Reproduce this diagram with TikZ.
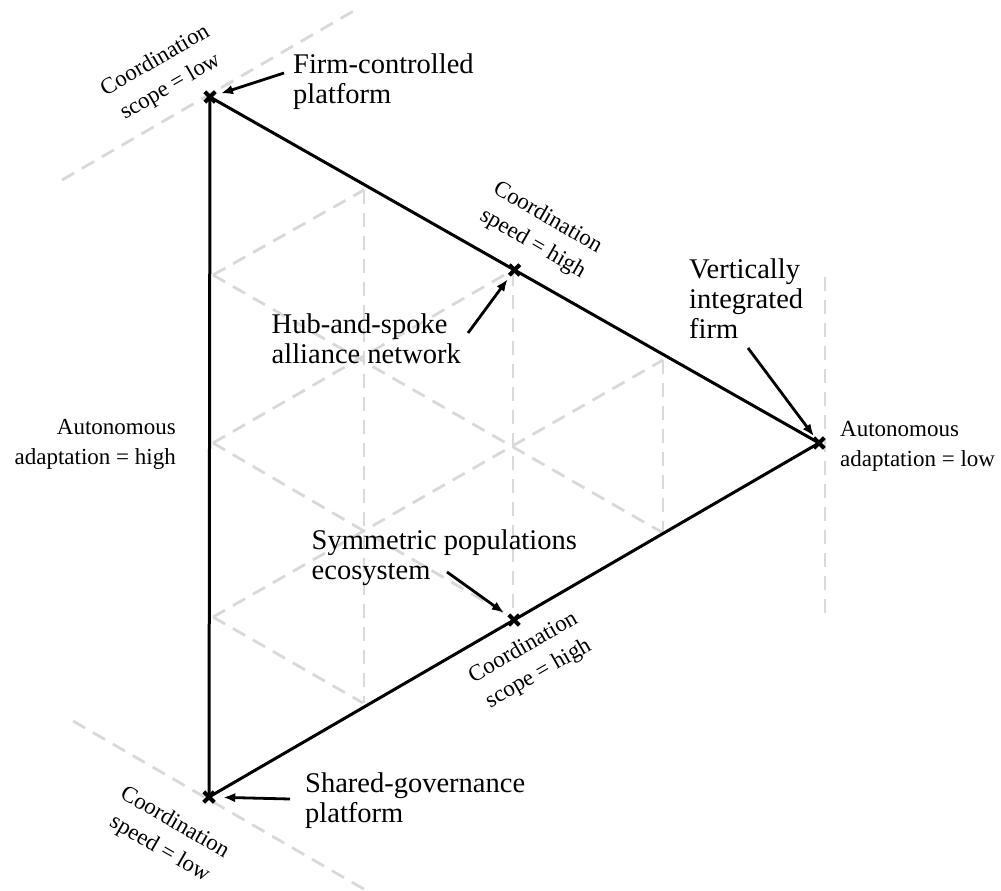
\documentclass[tikz,border=0pt]{standalone}
\usepackage{fontspec}
\setmainfont{Liberation Serif}
\usetikzlibrary{arrows.meta,shapes.misc,calc}
\definecolor{gridgray}{RGB}{217,217,217}
\begin{document}
\begin{tikzpicture}[x=1pt,y=-1pt,
  edge/.style={line width=3pt},
  gridline/.style={draw=gridgray, line width=2.8pt, dash pattern=on 14pt off 9pt},
  xmark/.style={cross out, draw=black, line width=4.2pt, minimum size=10.5pt, inner sep=0pt, outer sep=0pt},
  pointer/.style={line width=2.8pt, -{Latex[length=12pt,width=9.5pt]}},
  biglabel/.style={font=\fontsize{28.5}{30}\selectfont, align=left, inner sep=0pt, anchor=north west},
  smalllabel/.style={font=\fontsize{23}{30}\selectfont, inner sep=0pt, align=center}]

\useasboundingbox (0,0) rectangle (1001,891);

% corner and mid points
\coordinate (FC) at (210,97);
\coordinate (VI) at (819,443);
\coordinate (SG) at (209,797);
\coordinate (HS) at ($(FC)!0.5!(VI)$);
\coordinate (SP) at ($(SG)!0.5!(VI)$);

% background grid
\draw[gridline] (364,190) -- (364,703);
\draw[gridline] (513,272) -- (513,616);
\draw[gridline] (663,360) -- (663,533);
\draw[gridline] (825,277) -- (825,617);
\draw[gridline] (213,275) -- (364,190);
\draw[gridline] (213,443) -- (513,270);
\draw[gridline] (213,617) -- (663,360);
\draw[gridline] (62,180) -- (357,9);
\draw[gridline] (213,275) -- (663,533);
\draw[gridline] (213,443) -- (513,618);
\draw[gridline] (213,617) -- (363,703);
\draw[gridline] (73,721) -- (400,910);

% triangle
\draw[edge, line join=miter] (FC) -- (VI) -- (SG) -- cycle;

% marks
\node[xmark] (FCm) at (FC) {};
\node[xmark] (VIm) at (VI) {};
\node[xmark] (SGm) at (SG) {};
\node[xmark] (HSm) at (HS) {};
\node[xmark] (SPm) at (SP) {};

% main labels
\node[biglabel] (FCl) at (293,53.5) {Firm-controlled\\platform};
\node[biglabel] (HSl) at (271.5,313.5) {Hub-and-spoke\\alliance network};
\node[biglabel] (VIl) at (689,258.5) {Vertically\\integrated\\firm};
\node[biglabel] (SPl) at (311.5,530) {Symmetric populations\\ecosystem};
\node[biglabel] (SGl) at (305,773) {Shared-governance\\platform};

% axis labels
\node[smalllabel, align=right, anchor=north east] (AAhigh) at (176,419.3) {Autonomous\\adaptation = high};
\node[smalllabel, align=left, anchor=north west] (AAlow) at (840,421) {Autonomous\\adaptation = low};
\node[smalllabel, rotate=30] (scopelow) at (163,74) {Coordination\\scope = low};
\node[smalllabel, rotate=-30] (speedhigh) at (540,231) {Coordination\\speed = high};
\node[smalllabel, rotate=30] (scopehigh) at (531,661) {Coordination\\scope = high};
\node[smalllabel, rotate=-30] (speedlow) at (167,836) {Coordination\\speed = low};

% pointers
\coordinate (FCt) at (284,73);
\coordinate (HSt) at (468,333);
\coordinate (VIt) at (748,348);
\coordinate (SPt) at (447,572);
\coordinate (SGt) at (290,799);
\draw[pointer, shorten >=6pt] (FCt) -- (FCm);
\draw[pointer, shorten >=5pt] (HSt) -- (HSm);
\draw[pointer, shorten >=2pt] (VIt) -- (VIm);
\draw[pointer, shorten >=6pt] (SPt) -- (SPm);
\draw[pointer, shorten >=9pt] (SGt) -- (SGm);
\end{tikzpicture}
\end{document}
